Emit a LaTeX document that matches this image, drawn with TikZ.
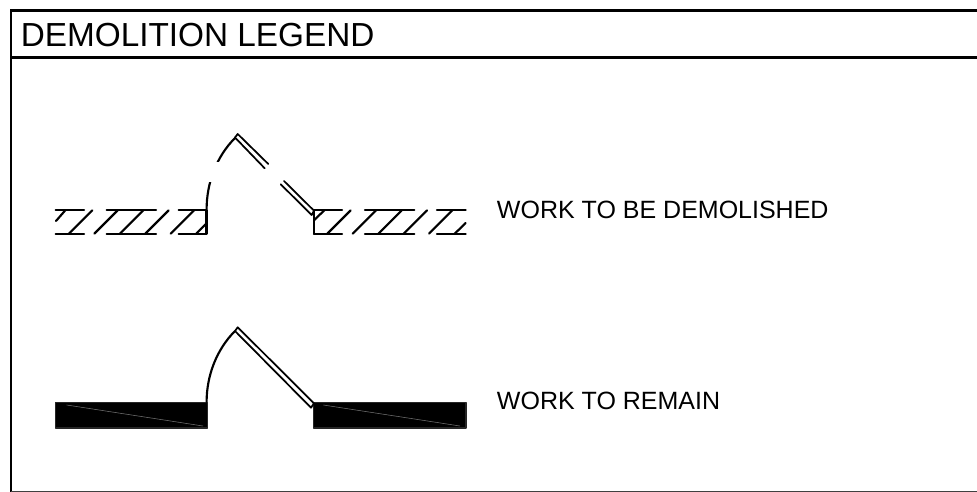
\documentclass[tikz,border=0pt]{standalone}
\usepackage{fontspec}
\setmainfont{Liberation Sans}
\tikzset{
  x=0.75pt,y=-0.75pt,
  frameline/.style={line width=2.2pt,black},
  plan/.style={line width=1.6pt,black,line cap=round,line join=round},
  fine/.style={line width=1.3pt,black,line cap=round,line join=round},
  hairline/.style={line width=0.4pt,black!55},
  titletext/.style={anchor=base west,inner sep=0pt,font=\fontsize{25pt}{28pt}\selectfont},
  labeltext/.style={anchor=base west,inner sep=0pt,font=\fontsize{18.75pt}{22pt}\selectfont},
  solidwall/.style={fill=black,draw=black!85,line width=1.1pt,line join=round}
}
\begin{document}
\begin{tikzpicture}
\useasboundingbox (0,0) rectangle (977,492);
\fill[white] (0,0) rectangle (977,492);
% frame
\begin{scope}
\clip (0,0) rectangle (977,492);
\draw[frameline] (977,10.5) -- (11,10.5) -- (11,491.7);
\draw[frameline] (11,57.5) -- (977,57.5);
\draw[line width=1.8pt,black!75] (11,491.7) -- (977,491.7);
\end{scope}
\node[titletext] (title) at (20.5,46) {DEMOLITION LEGEND};
\node[labeltext] (demo) at (496.7,218) {WORK TO BE DEMOLISHED};
\node[labeltext] (remain) at (496.7,409.3) {WORK TO REMAIN};
% hatched walls: horizontals
\foreach \y in {210.3,233.7}{
  \draw[plan] (55.7,\y) -- (84,\y);
  \draw[plan] (106.7,\y) -- (156,\y);
  \draw[plan] (178.7,\y) -- (206.5,\y);
  \draw[plan] (314,\y) -- (342,\y);
  \draw[plan] (365,\y) -- (414.3,\y);
  \draw[plan] (437,\y) -- (465.7,\y);
}
\draw[plan] (206.5,210.3) -- (206.5,233.7);
\draw[plan] (314,210.3) -- (314,233.7);
% hatched walls: diagonals
\draw[plan] (56,221) -- (65.3,210.3);
\foreach \a in {69,94.3,120,145.3,170.7}{
  \draw[plan] (\a,233.7) -- ++(23.4,-23.4);
}
\draw[plan] (196.3,233.7) -- (206.5,223.3);
\draw[plan] (314,220.3) -- (324.3,210.3);
\foreach \a in {327.3,352.7,378.3,403.7,429}{
  \draw[plan] (\a,233.7) -- ++(23.4,-23.4);
}
\draw[plan] (454.7,233.7) -- (465.7,223);
% demolished door: swing, broken
\begin{scope}
\clip (190,125) rectangle (250,161.3);
\draw[plan] (206.6,209.5) .. controls (206.6,182) and (217,156) .. (235,138);
\end{scope}
\begin{scope}
\clip (190,182.7) rectangle (250,240);
\draw[plan] (206.6,209.5) .. controls (206.6,182) and (217,156) .. (235,138);
\end{scope}
% demolished door: leaf
\draw[fine] (235,137.5) -- (237.7,134) -- (268.3,164);
\draw[fine] (235,137.5) -- (264.7,168.3);
\draw[fine] (284,181) -- (314,210.7) -- (311.7,215) -- (280.7,184.3);
% walls to remain
\draw[solidwall] (55.5,402.5) rectangle (207.5,428);
\draw[solidwall] (313.7,402.5) rectangle (466,428);
\draw[hairline] (66.7,405) -- (203,426);
\draw[hairline] (323.3,405) -- (460,426);
% remaining door
\draw[plan] (206.6,402) .. controls (206.6,375) and (217,349) .. (235,331);
\draw[fine] (235,331) -- (237.7,327.3) -- (314,403.3) -- (311,407.7) -- cycle;
\end{tikzpicture}
\end{document}
